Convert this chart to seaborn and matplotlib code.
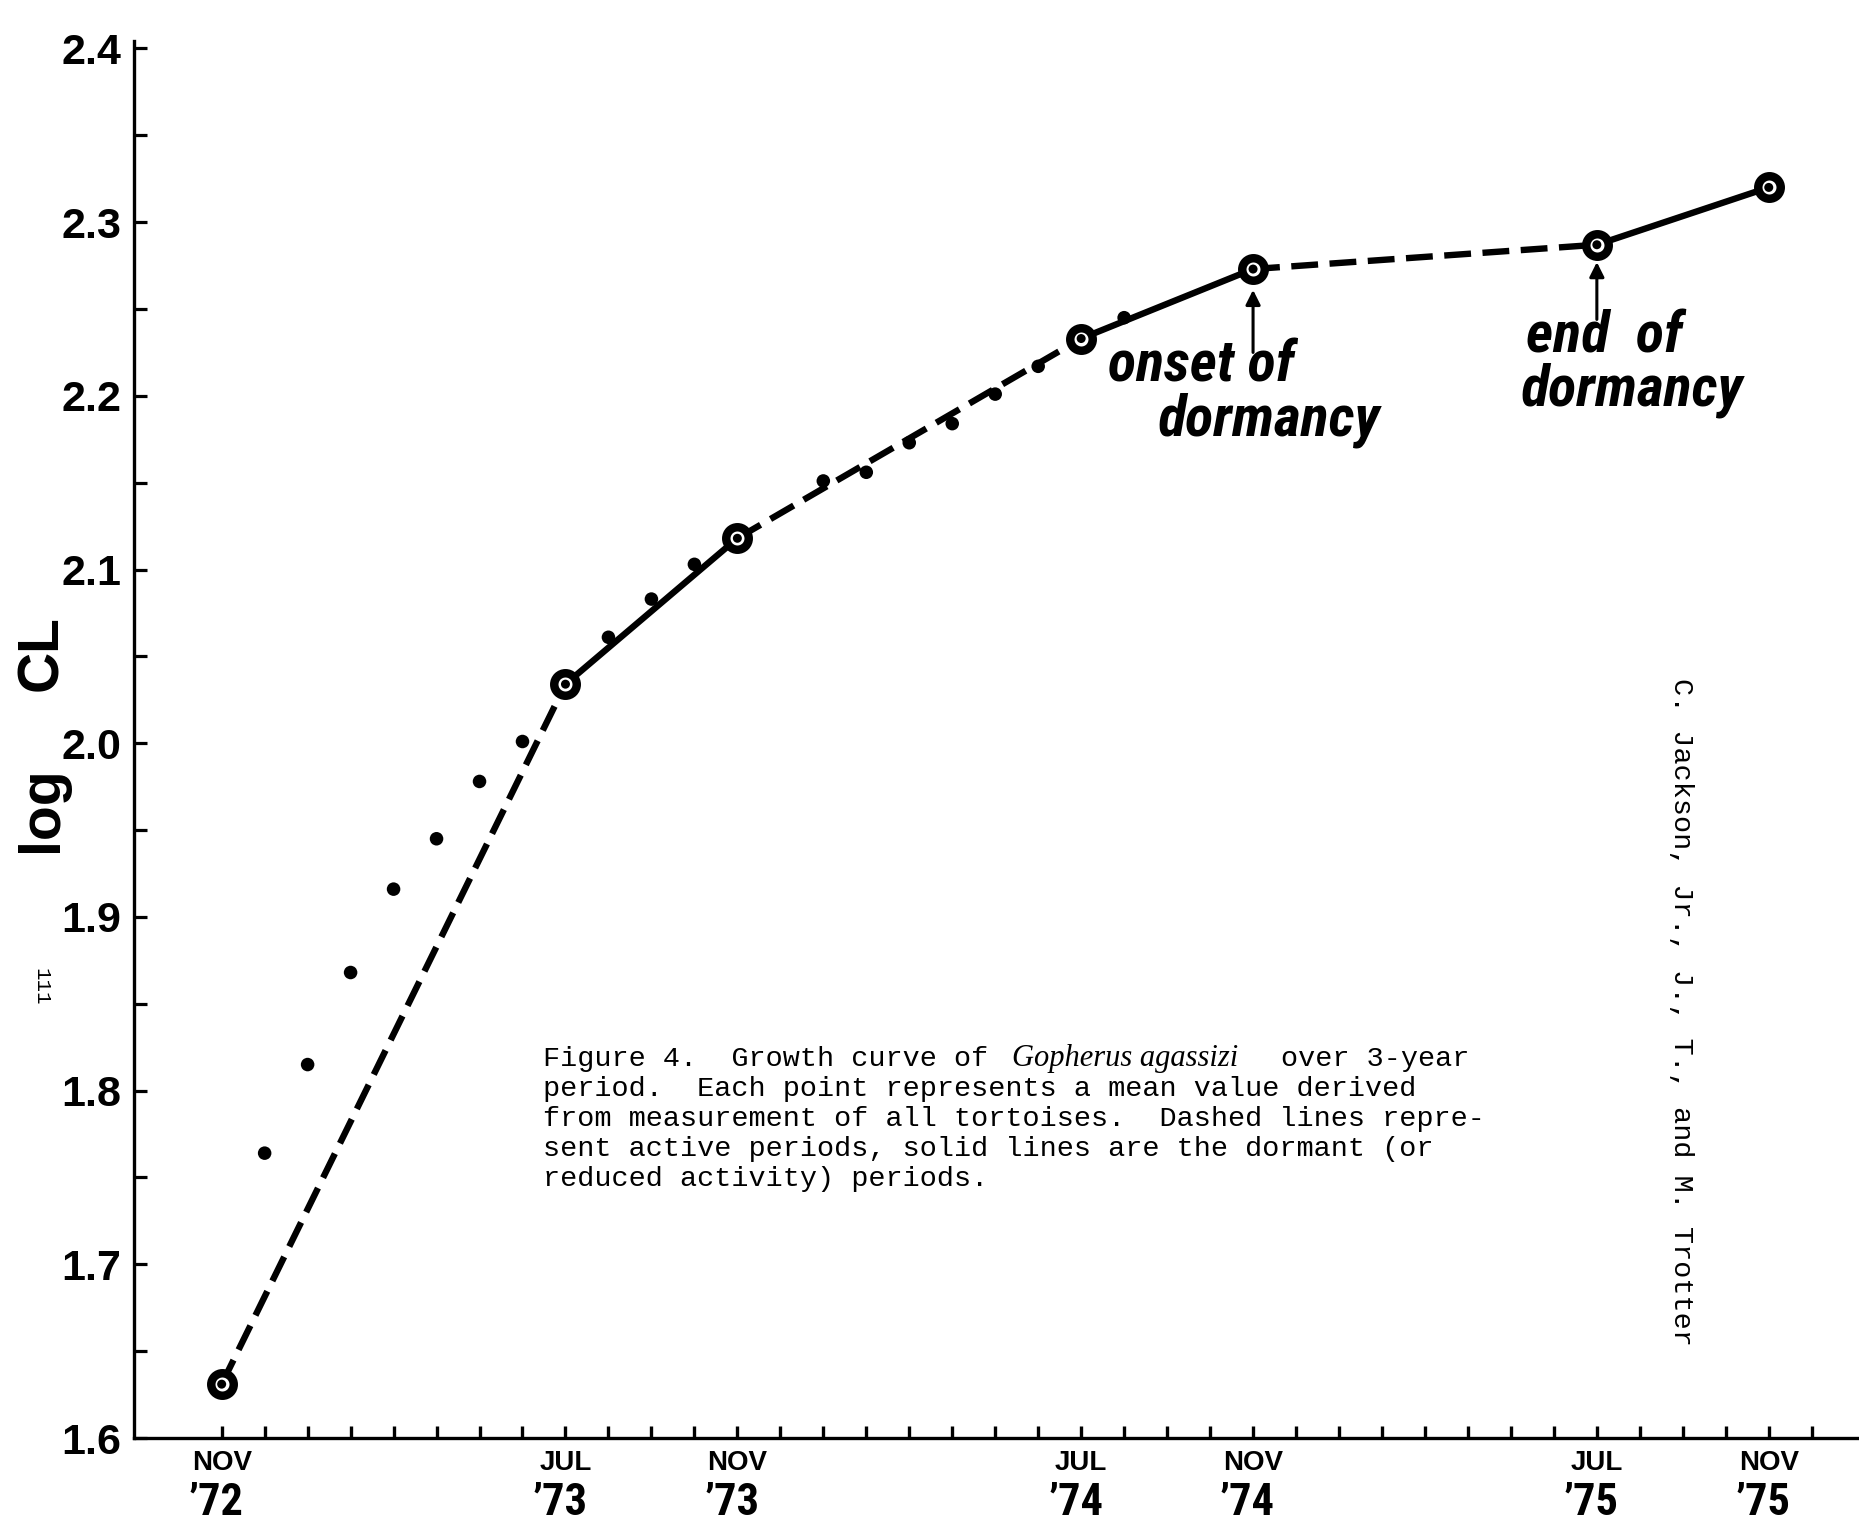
import matplotlib
matplotlib.use('Agg')
import matplotlib.pyplot as plt
import seaborn as sns
import pandas as pd
from matplotlib import font_manager as fm

# ---------------- data ----------------
big_month = [0, 8, 12, 20, 24, 32, 36]
big_logcl = [1.631, 2.034, 2.118, 2.233, 2.273, 2.287, 2.320]
segment_style = ['dashed', 'solid', 'dashed', 'solid', 'dashed', 'solid']
dot_month = [1, 2, 3, 4, 5, 6, 7, 9, 10, 11, 14, 15, 16, 17, 18, 19, 21]
dot_logcl = [1.764, 1.815, 1.868, 1.916, 1.945, 1.978, 2.001, 2.061, 2.083, 2.103,
             2.151, 2.156, 2.173, 2.184, 2.201, 2.217, 2.245]
xtick_months = [0, 8, 12, 20, 24, 32, 36]
xtick_month_labels = ['NOV', 'JUL', 'NOV', 'JUL', 'NOV', 'JUL', 'NOV']
xtick_year_labels = ['’72', '’73', '’73', '’74', '’74', '’75', '’75']
xminor_months = list(range(0, 38))
ytick_values = [1.6, 1.7, 1.8, 1.9, 2.0, 2.1, 2.2, 2.3, 2.4]
ytick_labels = ['1.6', '1.7', '1.8', '1.9', '2.0', '2.1', '2.2', '2.3', '2.4']
yminor_values = [1.65, 1.75, 1.85, 1.95, 2.05, 2.15, 2.25, 2.35]
onset_index = 4
end_index = 5
caption_first = ['Figure 4.  Growth curve of', 'Gopherus agassizi', 'over 3-year']
caption_rest = ['period.  Each point represents a mean value derived',
                'from measurement of all tortoises.  Dashed lines repre-',
                'sent active periods, solid lines are the dormant (or',
                'reduced activity) periods.']
author_text = 'C. Jackson, Jr., J., T., and M. Trotter'
page_number = '111'
y_label_parts = ['log', 'CL']

# ---------------- fonts ----------------
names = {f.name for f in fm.fontManager.ttflist}
NARROW = 'Roboto Condensed' if 'Roboto Condensed' in names else 'Liberation Sans'
SANS = 'Liberation Sans'
MONO = 'Liberation Mono'
SERIF = 'Liberation Serif'

sns.set_theme(style='ticks')
plt.rcParams['font.family'] = ['Liberation Sans', 'DejaVu Sans']
for k in ['text.color', 'axes.labelcolor', 'xtick.color', 'ytick.color', 'axes.edgecolor']:
    plt.rcParams[k] = 'black'

W, H = 1859, 1522
fig = plt.figure(figsize=(W / 100, H / 100), dpi=100)
fig.patch.set_facecolor('white')
ax = fig.add_axes([134 / W, (H - 1438) / H, 1 - 134 / W, (1438 - 41) / H])
ax.set_facecolor('white')


def fx(px):
    return px / W


def fy(py):
    return 1 - py / H


# ---------------- segments ----------------
rows = []
for i, st in enumerate(segment_style):
    for j in (i, i + 1):
        rows.append({'month': big_month[j], 'logcl': big_logcl[j], 'seg': i, 'kind': st})
seg_df = pd.DataFrame(rows)
sns.lineplot(data=seg_df, x='month', y='logcl', units='seg', estimator=None, style='kind',
             dashes={'dashed': (4.2, 1.8), 'solid': ''}, color='black', linewidth=4.6,
             legend=False, sort=False, ax=ax, zorder=3)

# small dots
sns.scatterplot(x=dot_month, y=dot_logcl, s=95, color='black', edgecolor='none', ax=ax, zorder=4)
# big ringed points
sns.scatterplot(x=big_month, y=big_logcl, s=262, marker='o', facecolor='white',
                edgecolor='black', linewidth=6.1, ax=ax, zorder=5)
sns.scatterplot(x=big_month, y=big_logcl, s=42, color='black', edgecolor='none', ax=ax, zorder=6)

# ---------------- axes ----------------
ax.set_xlim(-2.04, 38.1)
ax.set_ylim(1.6, 2.4043)
sns.despine(ax=ax)
for s in ['left', 'bottom']:
    ax.spines[s].set_linewidth(2.4)
    ax.spines[s].set_color('black')

ax.set_yticks(ytick_values)
ax.set_yticklabels(ytick_labels, fontsize=31, fontweight='bold', fontfamily=SANS)
ax.set_yticks(yminor_values, minor=True)
ax.tick_params(axis='y', which='both', direction='in', length=9, width=2.3, color='black', pad=9)

ax.set_xticks(xtick_months)
ax.set_xticklabels(xtick_month_labels, fontsize=20, fontweight='bold', fontfamily=SANS)
ax.set_xticks(xminor_months, minor=True)
ax.tick_params(axis='x', which='both', direction='in', length=8.5, width=2.4, color='black', pad=9)

for m, yl in zip(xtick_months, xtick_year_labels):
    ax.annotate(yl, xy=(m, 0), xycoords=('data', 'axes fraction'), xytext=(-4, -47),
                textcoords='offset points', ha='center', va='center', fontsize=32,
                fontweight='bold', fontfamily=NARROW)

ax.set_xlabel('')
ax.set_ylabel('')
# y-axis title "log  CL" (two words placed with the wide gap of the original)
ylkw = dict(rotation=90, rotation_mode='anchor', ha='center', va='baseline',
            fontsize=41, fontweight='bold', fontfamily=SANS)
fig.text(fx(57), fy(809), y_label_parts[0], **ylkw)
fig.text(fx(57), fy(653), y_label_parts[1], **ylkw)

# ---------------- annotations ----------------
om, ov = big_month[onset_index], big_logcl[onset_index]
em, ev = big_month[end_index], big_logcl[end_index]
ax.annotate('', xy=(om, ov - 0.012), xytext=(om, ov - 0.048),
            arrowprops=dict(arrowstyle='-|>', lw=2.2, color='black', mutation_scale=22,
                            shrinkA=0, shrinkB=0))
ax.annotate('', xy=(em, ev - 0.010), xytext=(em, ev - 0.043),
            arrowprops=dict(arrowstyle='-|>', lw=2.2, color='black', mutation_scale=22,
                            shrinkA=0, shrinkB=0))
akw = dict(fontsize=42, fontweight='bold', fontstyle='italic', fontfamily=NARROW,
           ha='left', va='baseline')
ax.text(20.63, 2.2082, 'onset of', **akw)
ax.text(21.79, 2.1769, 'dormancy', **akw)
ax.text(30.34, 2.2247, 'end  of', **akw)
ax.text(30.23, 2.1946, 'dormancy', **akw)

# ---------------- caption & side texts ----------------
ckw = dict(fontsize=20.5, fontfamily=MONO, ha='left', va='baseline', color='black')
base0 = 1066
fig.text(fx(543), fy(base0), caption_first[0], **ckw)
fig.text(fx(1012), fy(base0), caption_first[1], fontsize=22, fontfamily=SERIF,
         fontstyle='italic', ha='left', va='baseline')
fig.text(fx(1281), fy(base0), caption_first[2], **ckw)
for k, line in enumerate(caption_rest):
    fig.text(fx(543), fy(base0 + 30 * (k + 1)), line, **ckw)

fig.text(fx(1681), fy(678), author_text, rotation=270, ha='center', va='top',
         fontsize=20.5, fontfamily=MONO)
fig.text(fx(41), fy(987), page_number, rotation=270, ha='center', va='center',
         fontsize=15, fontfamily=MONO)

fig.savefig('out.png', dpi=100, facecolor='white')
